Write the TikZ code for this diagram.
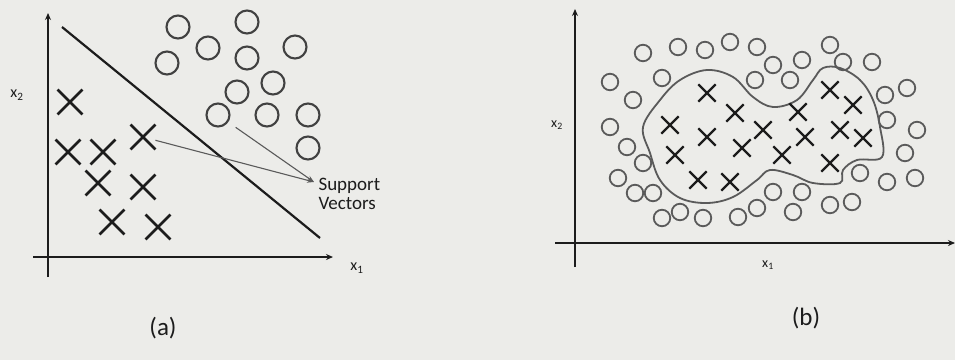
\documentclass[tikz,border=0pt]{standalone}
\usepackage{fontspec}
\setmainfont{Carlito}
\usetikzlibrary{shapes.misc,arrows.meta}
\definecolor{paper}{RGB}{236,236,233}
\definecolor{ink}{RGB}{28,28,28}
\definecolor{inkgray}{RGB}{65,65,65}
\definecolor{linegray}{RGB}{90,90,90}
\begin{document}
\begin{tikzpicture}[
    x=1pt, y=-1pt,
    every node/.style={font=\fontsize{16}{18}\selectfont, text=ink},
    ringa/.style={circle, draw=inkgray, line width=2.1pt, minimum size=23pt, inner sep=0pt},
    ringb/.style={circle, draw=linegray, line width=1.8pt, minimum size=16.5pt, inner sep=0pt},
    xmarka/.style={cross out, draw=ink, line width=2.8pt, minimum size=22pt, inner sep=0pt},
    xmarkb/.style={cross out, draw=ink, line width=2.3pt, minimum size=15pt, inner sep=0pt},
    axis/.style={draw=ink, line width=1.5pt, -{Stealth[length=7pt,width=6pt]}},
    svarrow/.style={draw=linegray, line width=1.1pt, -{Stealth[length=7pt,width=5pt]}},
]
\fill[paper] (0,0) rectangle (955,360);
\useasboundingbox (0,0) rectangle (955,360);

%% ---------------- (a) linear separation ----------------
% Axes
\draw[axis] (33,257) -- (333,257);
\draw[axis] (48,277) -- (48,13);
\node (x2a) at (17,95) {x\textsubscript{2}};
\node (x1a) at (357,268) {x\textsubscript{1}};

% Separating line
\draw[ink, line width=2.2pt] (62,27) -- (320,238);

% Circles (class one)
\foreach \px/\py [count=\i] in {178/27, 247/22, 208/48, 247/58, 295/47, 167/63,
    273/83, 237/92, 218/115, 267/115, 308/115, 308/148}
  \node[ringa] (oa\i) at (\px,\py) {};

% Crosses (class two)
\foreach \px/\py [count=\i] in {70/102, 68/152, 103/152, 143/137, 98/183,
    143/187, 112/222, 158/227}
  \node[xmarka] (xa\i) at (\px,\py) {};

% Support vectors label and pointers
\node[anchor=west, font=\fontsize{19}{21}\selectfont] (sup) at (315,186) {Support};
\node[anchor=north west, font=\fontsize{19}{21}\selectfont, inner ysep=0pt] (vec) at (sup.south west) {Vectors};
\draw[svarrow] (xa4) -- ([xshift=-1pt,yshift=4pt]sup.west);
\draw[svarrow, shorten <=9pt] (oa9) -- ([xshift=-1pt,yshift=4pt]sup.west);

\node[font=\fontsize{25}{27}\selectfont] (capa) at (163,328) {(a)};

%% ---------------- (b) non-linear separation ----------------
% Axes
\draw[axis] (555,243) -- (955,243);
\draw[axis] (575,267) -- (575,9);
\node[font=\fontsize{14}{16}\selectfont] (x2b) at (557,125) {x\textsubscript{2}};
\node[font=\fontsize{14}{16}\selectfont] (x1b) at (768,265) {x\textsubscript{1}};

% Decision boundary
\draw[linegray, line width=1.8pt] plot[smooth cycle, tension=0.6] coordinates {
    (643,127) (660,100) (680,80) (707,70) (733,77) (753,97) (773,107)
    (797,100) (813,80) (823,68) (840,68) (860,80) (873,100) (880,127)
    (882,157) (857,160) (843,170) (840,183) (813,183) (793,175) (770,170)
    (757,180) (733,197) (707,203) (680,198) (660,180) (650,153)};

% Circles (outside the boundary)
\foreach \px/\py [count=\i] in {643/53, 678/47, 705/50, 730/42, 757/47, 830/45,
    773/65, 802/60, 843/62, 872/62, 610/82, 662/78, 755/80, 790/80, 633/100,
    885/95, 907/88, 610/127, 887/120, 917/130, 627/147, 905/153, 643/163,
    618/178, 860/173, 887/182, 915/178, 635/193, 653/193, 773/192, 802/192,
    830/205, 852/202, 662/218, 680/212, 703/218, 738/217, 757/208, 793/212}
  \node[ringb] (ob\i) at (\px,\py) {};

% Crosses (inside the boundary)
\foreach \px/\py [count=\i] in {707/93, 735/113, 798/112, 830/90, 853/105,
    670/125, 707/137, 763/130, 805/137, 840/130, 863/138, 675/155, 742/148,
    782/155, 830/163, 698/180, 730/182}
  \node[xmarkb] (xb\i) at (\px,\py) {};

\node[font=\fontsize{25}{27}\selectfont] (capb) at (806,318) {(b)};

\end{tikzpicture}
\end{document}
